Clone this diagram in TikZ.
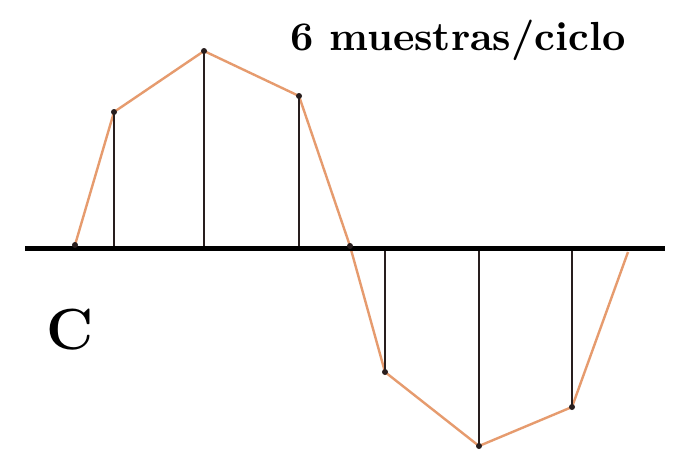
\documentclass[tikz,border=0pt]{standalone}
\usepackage{graphicx}
\definecolor{wave}{RGB}{230,155,110}
\definecolor{stem}{RGB}{40,30,30}
\begin{document}
\begin{tikzpicture}[x=1pt,y=-1pt,
  waveline/.style={draw=wave,line width=2.4pt,line join=round},
  stemline/.style={draw=stem,line width=1.8pt},
  axisline/.style={draw=black,line width=5pt},
  sampledot/.style={circle,fill=stem,inner sep=0pt,minimum size=6pt}]
\useasboundingbox (0,0) rectangle (678,455);
\fill[white] (0,0) rectangle (678,455);
% axis
\coordinate (axL) at (25,248);
\coordinate (axR) at (665,248);
% samples
\coordinate (p0) at (75,245);
\coordinate (p1) at (114,112);
\coordinate (p2) at (204,51);
\coordinate (p3) at (299,96);
\coordinate (p4) at (350,246);
\coordinate (p5) at (385,372);
\coordinate (p6) at (479,446);
\coordinate (p7) at (572,407);
\coordinate (p8) at (628,252);
% base points on axis
\coordinate (b1) at (114,248);
\coordinate (b2) at (204,248);
\coordinate (b3) at (299,248);
\coordinate (b5) at (385,248);
\coordinate (b6) at (479,248);
\coordinate (b7) at (572,248);
\draw[waveline] (p0) -- (p1) -- (p2) -- (p3) -- (p4) -- (p5) -- (p6) -- (p7) -- (p8);
\foreach \i in {1,2,3,5,6,7} \draw[stemline] (b\i) -- (p\i);
\draw[axisline] (axL) -- (axR);
\foreach \i in {0,1,2,3,4,5,6,7} \node[sampledot] (d\i) at (p\i) {};
\node[anchor=center,inner sep=0pt] (title) at (458,40) {\resizebox{335pt}{!}{\bfseries 6 muestras/ciclo}};
\node[anchor=center,inner sep=0pt] (lab) at (70,330) {\fontsize{58}{60}\selectfont\bfseries C};
\end{tikzpicture}
\end{document}
